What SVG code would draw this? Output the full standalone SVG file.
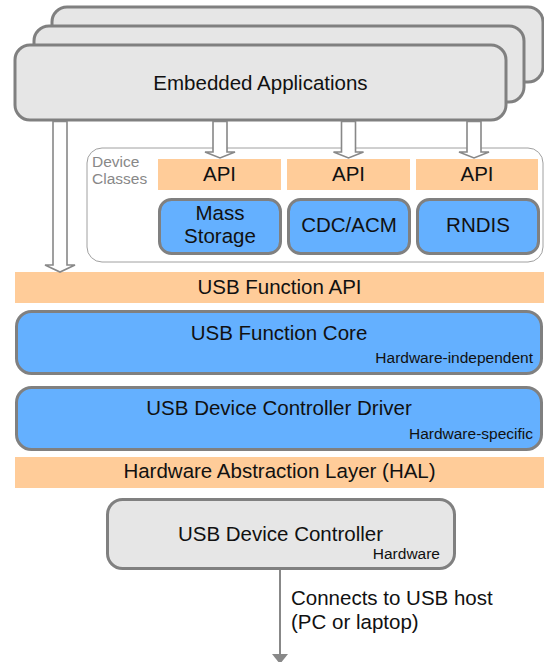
<svg xmlns="http://www.w3.org/2000/svg" width="544" height="662" viewBox="0 0 544 662">
<style>
  .app { fill: #e6e6e6; stroke: #808080; stroke-width: 3; }
  .blue { fill: #64b0ff; stroke: #808080; stroke-width: 3; }
  .bar { fill: #ffcc99; }
  .hw { fill: #e6e6e6; stroke: #808080; stroke-width: 3; }
  .container { fill: #ffffff; stroke: #a0a0a0; stroke-width: 1; }
  .hollow { fill: #ffffff; stroke: #888888; stroke-width: 1.6; stroke-linejoin: miter; }
  .t { font-family: "Liberation Sans", Arial, sans-serif; font-size: 20.5px; fill: #111111; text-anchor: middle; }
  .small { font-family: "Liberation Sans", Arial, sans-serif; font-size: 15.5px; fill: #111111; text-anchor: end; }
  .gray { font-family: "Liberation Sans", Arial, sans-serif; font-size: 15.5px; fill: #888888; }
  .left { font-family: "Liberation Sans", Arial, sans-serif; font-size: 20.5px; fill: #111111; }
  .line { stroke: #888888; stroke-width: 2; fill: none; }
</style>

<g id="apps">
  <rect class="app" x="52" y="7" width="491" height="75" rx="15"/>
  <rect class="app" x="34" y="26" width="490" height="76" rx="15"/>
  <rect class="app" x="15" y="45" width="491" height="75" rx="15"/>
  <text class="t" x="260.5" y="90">Embedded Applications</text>
</g>

<g id="device-classes">
  <rect class="container" x="87" y="148" width="456" height="114" rx="15"/>
  <text class="gray" x="92" y="167">Device</text>
  <text class="gray" x="92" y="184">Classes</text>
</g>

<g id="api-1">
  <rect class="bar" x="158" y="159" width="123" height="31"/>
  <text class="t" x="219.5" y="181">API</text>
</g>
<g id="api-2">
  <rect class="bar" x="287" y="159" width="123" height="31"/>
  <text class="t" x="348.5" y="181">API</text>
</g>
<g id="api-3">
  <rect class="bar" x="416" y="159" width="122" height="31"/>
  <text class="t" x="477" y="181">API</text>
</g>

<g id="mass-storage">
  <rect class="blue" x="159.5" y="199.5" width="121" height="54" rx="12"/>
  <text class="t" x="220" y="220">Mass</text>
  <text class="t" x="220" y="243">Storage</text>
</g>
<g id="cdc-acm">
  <rect class="blue" x="288.5" y="199.5" width="121" height="54" rx="12"/>
  <text class="t" x="349" y="232">CDC/ACM</text>
</g>
<g id="rndis">
  <rect class="blue" x="417.5" y="199.5" width="121" height="54" rx="12"/>
  <text class="t" x="478" y="232">RNDIS</text>
</g>

<g id="usb-function-api">
  <rect class="bar" x="15" y="272" width="529" height="31"/>
  <text class="t" x="279.5" y="294">USB Function API</text>
</g>

<g id="usb-function-core">
  <rect class="blue" x="16.5" y="311.5" width="525" height="62" rx="15"/>
  <text class="t" x="279" y="340">USB Function Core</text>
  <text class="small" x="533" y="363">Hardware-independent</text>
</g>

<g id="usb-device-controller-driver">
  <rect class="blue" x="16.5" y="387.5" width="525" height="62" rx="15"/>
  <text class="t" x="279" y="415">USB Device Controller Driver</text>
  <text class="small" x="533" y="439">Hardware-specific</text>
</g>

<g id="hal">
  <rect class="bar" x="15" y="457" width="529" height="31"/>
  <text class="t" x="279.5" y="478">Hardware Abstraction Layer (HAL)</text>
</g>

<g id="usb-device-controller">
  <rect class="hw" x="107.5" y="499.5" width="347" height="69" rx="15"/>
  <text class="t" x="280.5" y="541">USB Device Controller</text>
  <text class="small" x="440" y="559">Hardware</text>
</g>

<g id="connectors">
  <polygon class="hollow" points="53,121.5 67,121.5 67,265 75,265 60,272 45,265 53,265 53,121.5"/>
  <polygon class="hollow" points="213,121.5 227,121.5 227,152 235,152 220,158 205,152 213,152"/>
  <polygon class="hollow" points="341.5,121.5 355.5,121.5 355.5,152 363.5,152 348.5,158 333.5,152 341.5,152"/>
  <polygon class="hollow" points="467,121.5 481,121.5 481,152 489,152 474,158 459,152 467,152"/>
  <line class="line" x1="280" y1="570" x2="280" y2="656"/>
  <polygon points="272,654 288,654 280,664" fill="#888888"/>
  <text class="left" x="291" y="605">Connects to USB host</text>
  <text class="left" x="291" y="629">(PC or laptop)</text>
</g>
</svg>
